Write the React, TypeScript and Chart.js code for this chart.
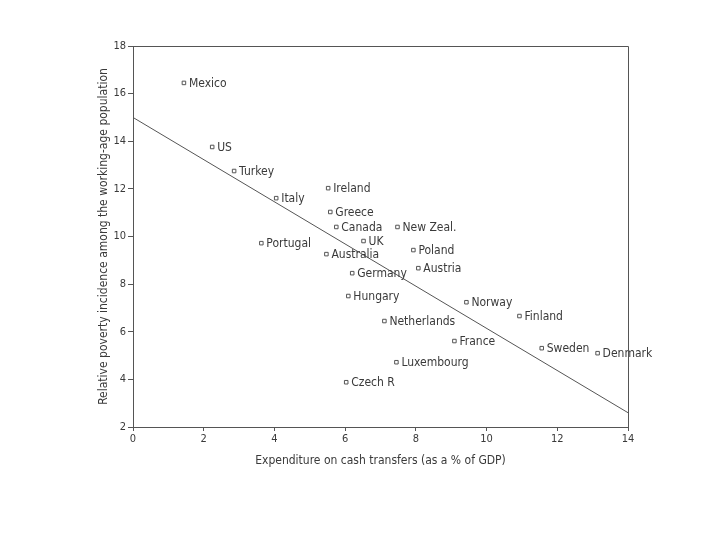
import React, { useEffect, useRef } from "react";
import { Chart, registerables } from "chart.js";

Chart.register(...registerables);

const countries = [
  "Mexico", "US", "Turkey", "Italy", "Ireland", "Greece", "Canada", "New Zeal.",
  "Portugal", "UK", "Australia", "Poland", "Germany", "Austria", "Hungary", "Norway",
  "Finland", "Netherlands", "France", "Sweden", "Denmark", "Luxembourg", "Czech R",
];
const expenditure = [
  1.44, 2.24, 2.86, 4.05, 5.52, 5.58, 5.75, 7.48,
  3.63, 6.52, 5.47, 7.93, 6.2, 8.07, 6.09, 9.43,
  10.93, 7.11, 9.09, 11.56, 13.14, 7.45, 6.03,
];
const poverty = [
  16.45, 13.76, 12.75, 11.61, 12.03, 11.03, 10.4, 10.4,
  9.72, 9.81, 9.26, 9.43, 8.46, 8.67, 7.5, 7.24,
  6.66, 6.45, 5.61, 5.31, 5.1, 4.72, 3.88,
];
const trendX = [0, 14];
const trendY = [15.0, 2.6];
const xTicks = [0, 2, 4, 6, 8, 10, 12, 14];
const yTicks = [2, 4, 6, 8, 10, 12, 14, 16, 18];

const FONT = "'Liberation Sans Narrow', 'DejaVu Sans Condensed', 'DejaVu Sans', sans-serif";
const INK = "#3a3a3a";

const labelPlugin = {
  id: "pointLabels",
  afterDatasetsDraw(chart: any) {
    const ctx = chart.ctx;
    const meta = chart.getDatasetMeta(0);
    ctx.save();
    ctx.font = `12px ${FONT}`;
    ctx.fillStyle = INK;
    ctx.textBaseline = "middle";
    ctx.textAlign = "left";
    meta.data.forEach((el: any, i: number) => {
      ctx.fillText(countries[i], el.x + 5, el.y + 0.5);
    });
    ctx.restore();
  },
};

const framePlugin = {
  id: "frame",
  afterDraw(chart: any) {
    const { ctx, chartArea } = chart;
    ctx.save();
    ctx.strokeStyle = "#555";
    ctx.lineWidth = 1;
    ctx.beginPath();
    ctx.moveTo(chartArea.left, chartArea.top + 0.5);
    ctx.lineTo(chartArea.right + 0.5, chartArea.top + 0.5);
    ctx.lineTo(chartArea.right + 0.5, chartArea.bottom);
    ctx.stroke();
    ctx.restore();
  },
};

export default function App() {
  const ref = useRef<HTMLCanvasElement>(null);
  useEffect(() => {
    if (!ref.current) return;
    const chart = new Chart(ref.current, {
      type: "scatter",
      data: {
        datasets: [
          {
            label: "Countries",
            data: expenditure.map((x, i) => ({ x, y: poverty[i] })),
            pointStyle: "rect",
            pointRadius: 2.5,
            pointBorderWidth: 1,
            pointBorderColor: "#555",
            pointBackgroundColor: "#fff",
            showLine: false,
          },
          {
            label: "Trend",
            type: "line",
            data: trendX.map((x, i) => ({ x, y: trendY[i] })),
            borderColor: "#555",
            borderWidth: 1,
            pointRadius: 0,
            fill: false,
          } as any,
        ],
      },
      options: {
        animation: false,
        responsive: false,
        layout: { padding: { left: 93, right: 92, top: 46, bottom: 68 } },
        plugins: { legend: { display: false }, tooltip: { enabled: false } },
        scales: {
          x: {
            type: "linear",
            min: 0,
            max: 14,
            afterFit: (s: any) => { s.height = 45; },
            afterBuildTicks: (s: any) => { s.ticks = xTicks.map((v) => ({ value: v })); },
            grid: { drawOnChartArea: false, drawTicks: true, tickLength: 4, color: "#555" },
            border: { display: true, color: "#555", width: 1 },
            ticks: { color: INK, font: { family: FONT, size: 11 }, padding: 2 },
            title: {
              display: true,
              text: "Expenditure on cash transfers (as a % of GDP)",
              color: INK,
              font: { family: FONT, size: 12 },
              padding: { top: 5 },
            },
          },
          y: {
            type: "linear",
            min: 2,
            max: 18,
            afterFit: (s: any) => { s.width = 40; },
            afterBuildTicks: (s: any) => { s.ticks = yTicks.map((v) => ({ value: v })); },
            grid: { drawOnChartArea: false, drawTicks: true, tickLength: 5, color: "#555" },
            border: { display: true, color: "#555", width: 1 },
            ticks: { color: INK, font: { family: FONT, size: 11 }, padding: 2 },
            title: {
              display: true,
              text: "Relative poverty incidence among the working-age population",
              color: INK,
              font: { family: FONT, size: 12 },
              padding: { bottom: 2 },
            },
          },
        },
      },
      plugins: [labelPlugin, framePlugin],
    });
    return () => chart.destroy();
  }, []);
  return (
    <div style={{ position: "fixed", left: 0, top: 0, width: 720, height: 540, background: "#fff" }}>
      <canvas ref={ref} width={720} height={540} style={{ width: 720, height: 540 }} />
    </div>
  );
}
